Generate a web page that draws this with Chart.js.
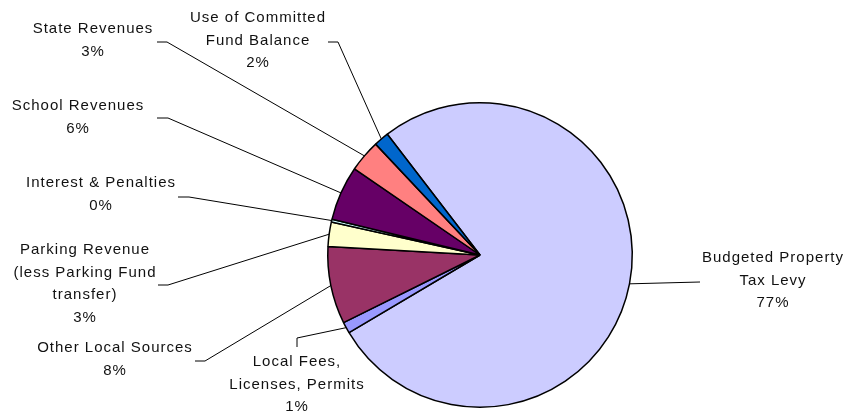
<!DOCTYPE html>
<html>
<head>
<meta charset="utf-8">
<script src="https://cdn.jsdelivr.net/npm/chart.js@4/dist/chart.umd.min.js"></script>
<style>
  body { margin: 0; background: #fff; }
  canvas { display: block; }
</style>
</head>
<body>
<canvas id="revenueChart" width="847" height="411"></canvas>
<script>
// Revenue sources, in slice order (clockwise)
const categories = [
  ["Budgeted Property", "Tax Levy"],
  ["Local Fees,", "Licenses, Permits"],
  ["Other Local Sources"],
  ["Parking Revenue", "(less Parking Fund", "transfer)"],
  ["Interest & Penalties"],
  ["School Revenues"],
  ["State Revenues"],
  ["Use of Committed", "Fund Balance"]
];
const shares = [76.9, 1.2, 8.2, 2.6, 0.3, 5.8, 3.4, 1.6];
const sliceColors = ["#CCCCFF", "#9999FF", "#993366", "#FFFFCC", "#CCFFFF", "#660066", "#FF8080", "#0066CC"];

// where each label sits: text centre x, first line y, leader points toward the pie
const labelLayout = [
  { x: 773, y: 258, leader: [[700, 282]] },
  { x: 297, y: 362, leader: [[297, 347], [297, 338]] },
  { x: 115, y: 348, leader: [[195, 361], [205, 361]] },
  { x: 85, y: 250, leader: [[158, 285], [168, 285]] },
  { x: 101, y: 183, leader: [[178, 197], [189, 197]] },
  { x: 78, y: 106, leader: [[157, 118], [168, 118]] },
  { x: 93, y: 29, leader: [[157, 42], [167, 42]] },
  { x: 258, y: 18, leader: [[328, 42], [338, 42]] }
];
const lineHeight = 22.5;

const total = shares.reduce((a, b) => a + b, 0);

const pieLabels = {
  id: "pieLabels",
  afterDraw(chart) {
    const ctx = chart.ctx;
    const arcs = chart.getDatasetMeta(0).data;
    ctx.save();
    ctx.strokeStyle = "#000";
    ctx.lineWidth = 1;
    ctx.fillStyle = "#111";
    ctx.font = "15px 'Liberation Sans', Arial, sans-serif";
    ctx.letterSpacing = "1px";
    ctx.textAlign = "center";
    ctx.textBaseline = "middle";

    arcs.forEach((arc, i) => {
      const p = arc.getProps(["x", "y", "startAngle", "endAngle", "outerRadius"], true);
      const mid = (p.startAngle + p.endAngle) / 2;
      const ax = p.x + Math.cos(mid) * p.outerRadius;
      const ay = p.y + Math.sin(mid) * p.outerRadius;
      const lay = labelLayout[i];

      // leader line
      ctx.beginPath();
      ctx.moveTo(lay.leader[0][0], lay.leader[0][1]);
      lay.leader.slice(1).forEach(pt => ctx.lineTo(pt[0], pt[1]));
      ctx.lineTo(ax, ay);
      ctx.stroke();

      // name + percentage
      const lines = categories[i].concat([Math.round(shares[i] / total * 100) + "%"]);
      lines.forEach((t, j) => ctx.fillText(t, lay.x, lay.y + j * lineHeight));
    });
    ctx.restore();
  }
};

new Chart(document.getElementById("revenueChart"), {
  type: "pie",
  data: {
    labels: categories,
    datasets: [{
      data: shares,
      backgroundColor: sliceColors,
      borderColor: "#000",
      borderWidth: 1.5
    }]
  },
  options: {
    responsive: false,
    animation: false,
    rotation: -37.5,
    layout: { padding: { left: 327, right: 214, top: 102, bottom: 3 } },
    plugins: {
      legend: { display: false },
      tooltip: { enabled: false }
    }
  },
  plugins: [pieLabels]
});
</script>
</body>
</html>
